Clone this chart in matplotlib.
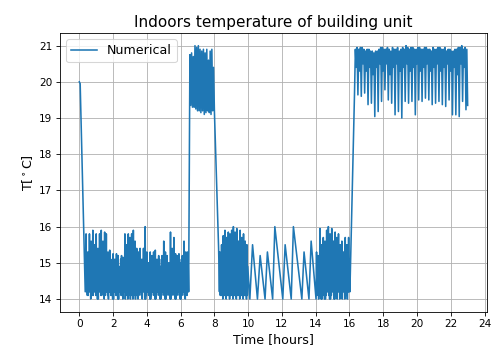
import numpy as np
import matplotlib
matplotlib.use("Agg")
import matplotlib.pyplot as plt

plt.rcParams["font.size"] = 12
plt.rcParams["xtick.labelsize"] = 10
plt.rcParams["ytick.labelsize"] = 10

STEP = 0.05        # sampling step of the comfort periods [hours]
FINE_STEP = 0.025  # sampling step of the setback periods [hours]

# initial cool-down from the set-point
start_t = [0.0, 0.05, 0.35]
start_T = [20.0, 19.95, 14.2]

# night setback, 0.40 h .. 6.475 h
night1_T0 = 0.40
night1_T = [
    15.8, 14.2, 14.9, 14.1, 15.3, 14.1, 15.0, 14.2, 15.8, 14.2, 14.8, 14.0,
    15.6, 14.2, 15.1, 14.1, 15.9, 14.1, 14.9, 14.2, 15.5, 14.2, 15.0, 14.1,
    15.8, 14.2, 14.8, 14.0, 15.4, 14.0, 15.1, 14.2, 15.8, 14.2, 14.9, 14.1,
    15.9, 14.1, 15.0, 14.2, 15.6, 14.2, 14.8, 14.0, 15.85, 14.1, 15.1, 14.2,
    15.8, 14.2, 14.9, 14.1, 15.3, 14.0, 15.0, 14.2, 15.35, 14.2, 14.8, 14.1,
    15.0, 14.1, 15.1, 14.0, 15.25, 14.0, 14.9, 14.2, 15.1, 14.2, 14.7, 14.1,
    15.25, 14.1, 15.0, 14.0, 15.2, 14.0, 14.8, 14.2, 14.9, 14.2, 15.1, 14.1,
    15.2, 14.1, 14.9, 14.0, 15.15, 14.2, 14.8, 14.2, 15.8, 14.0, 15.0, 14.1,
    15.5, 14.2, 14.9, 14.0, 15.8, 14.1, 15.1, 14.2, 15.7, 14.0, 14.8, 14.1,
    15.8, 14.2, 15.0, 14.0, 15.9, 14.1, 14.9, 14.2, 15.6, 14.0, 15.1, 14.1,
    15.4, 14.2, 14.8, 14.0, 15.3, 14.1, 15.0, 14.2, 15.4, 14.2, 14.9, 14.1,
    15.1, 14.0, 14.8, 14.2, 15.4, 14.2, 15.1, 14.0, 16.0, 14.0, 14.9, 14.1,
    15.3, 14.2, 15.0, 14.2, 15.0, 14.1, 14.8, 14.0, 15.3, 14.0, 15.1, 14.1,
    15.2, 14.2, 14.9, 14.2, 15.3, 14.1, 14.8, 14.0, 15.35, 14.0, 15.0, 14.1,
    15.1, 14.2, 14.9, 14.2, 15.2, 14.1, 15.1, 14.0, 14.9, 14.0, 14.8, 14.1,
    15.2, 14.2, 15.0, 14.2, 15.6, 14.1, 14.9, 14.0, 15.3, 14.0, 15.1, 14.1,
    15.2, 14.2, 14.8, 14.2, 15.0, 14.1, 15.0, 14.0, 15.85, 14.0, 14.9, 14.1,
    15.4, 14.2, 15.1, 14.2, 15.7, 14.1, 14.8, 14.0, 15.25, 14.0, 15.0, 14.1,
    15.2, 14.2, 14.9, 14.2, 15.25, 14.1, 14.8, 14.0, 15.0, 14.0, 15.1, 14.1,
    15.2, 14.2, 14.9, 14.2, 15.6, 14.1, 15.0, 14.0, 15.3, 14.2, 14.8, 14.1,
    15.3, 14.2, 14.9, 14.2,
]

# morning comfort period, 6.55 h .. 8.00 h
morning_T0 = 6.55
morning_T = [
    20.75, 19.35, 20.8, 19.3, 20.7, 19.3, 21.0, 19.25, 20.95, 19.2,
    21.0, 19.2, 20.9, 19.15, 20.85, 19.2, 20.9, 19.1, 20.8, 19.15,
    20.9, 19.2, 20.6, 19.15, 20.85, 19.1, 20.9, 19.2, 20.4, 19.2,
]

drop_t = [8.25]
drop_T = [15.4]

# day setback with heating cycles, 8.30 h .. 9.975 h
day1_T0 = 8.30
day1_T = [
    14.2, 15.3, 14.1, 14.9, 14.1, 15.5, 14.1, 15.0, 14.0, 15.75, 14.1, 14.8,
    14.1, 15.9, 14.1, 15.1, 14.0, 15.7, 14.1, 14.9, 14.1, 15.85, 14.1, 15.0,
    14.0, 15.8, 14.1, 14.8, 14.2, 15.9, 14.1, 15.1, 14.0, 16.0, 14.1, 14.9,
    14.1, 15.85, 14.1, 15.0, 14.0, 15.95, 14.1, 14.8, 14.2, 15.6, 14.1, 15.1,
    14.0, 15.9, 14.1, 14.9, 14.1, 15.7, 14.1, 15.0, 14.0, 15.8, 14.1, 14.8,
    14.1, 15.6, 14.1, 15.1, 14.0, 15.5, 14.1, 14.9,
]

# slow free-floating cycles around midday
saw_t = [10.1, 10.26, 10.55, 10.71, 11.0, 11.14, 11.45, 11.58, 12.05,
         12.19, 12.55, 12.68, 13.18, 13.31, 13.6, 13.73, 14.02]
saw_T = [14.0, 15.5, 14.0, 15.2, 14.0, 15.3, 14.0, 16.0, 14.0,
         15.5, 14.0, 16.0, 14.0, 15.3, 14.0, 15.6, 14.0]

# afternoon setback, 14.05 h .. 16.025 h
day2_T0 = 14.05
day2_T = [
    15.3, 14.1, 14.9, 14.2, 15.2, 14.0, 15.0, 14.1, 15.95, 14.2, 14.8, 14.0,
    15.5, 14.0, 15.1, 14.2, 15.7, 14.1, 14.9, 14.0, 15.6, 14.0, 15.0, 14.1,
    15.9, 14.2, 14.8, 14.2, 16.0, 14.1, 15.1, 14.0, 15.8, 14.0, 14.9, 14.1,
    15.95, 14.2, 15.0, 14.2, 15.6, 14.0, 14.8, 14.0, 15.85, 14.1, 15.1, 14.1,
    15.7, 14.0, 14.9, 14.2, 15.8, 14.2, 15.0, 14.0, 15.5, 14.1, 14.8, 14.1,
    15.6, 14.0, 15.1, 14.2, 15.3, 14.2, 14.9, 14.0, 15.7, 14.1, 15.0, 14.1,
    15.5, 14.0, 14.8, 14.2, 15.7, 14.2, 15.1, 14.2,
]

rise_t = [16.3]
rise_T = [19.7]

# evening comfort period, 16.35 h .. 23.00 h
evening_T0 = 16.35
evening_T = [
    20.9, 20.4, 20.95, 19.64, 20.9, 20.3, 20.95, 19.6,
    20.95, 20.5, 20.9, 19.69, 20.85, 20.3, 20.9, 19.37,
    20.9, 20.4, 20.85, 19.41, 20.85, 20.2, 20.8, 19.04,
    20.85, 20.4, 20.85, 19.18, 20.9, 20.5, 20.95, 19.46,
    20.95, 20.3, 20.9, 19.78, 20.9, 20.5, 20.95, 19.5,
    20.9, 20.2, 20.85, 19.41, 20.95, 20.4, 20.9, 19.09,
    20.9, 20.5, 20.95, 19.18, 20.85, 20.3, 20.9, 19.0,
    20.95, 20.4, 20.9, 19.46, 21.0, 20.5, 20.95, 19.41,
    20.9, 20.3, 20.95, 19.46, 20.95, 20.4, 20.9, 19.09,
    20.9, 20.5, 20.95, 19.5, 20.95, 20.3, 20.9, 19.46,
    20.9, 20.4, 20.95, 19.55, 20.95, 20.5, 20.9, 19.5,
    20.9, 20.3, 20.85, 19.37, 20.95, 20.4, 20.9, 19.41,
    20.9, 20.5, 20.95, 19.46, 20.95, 20.3, 20.9, 19.37,
    20.9, 20.4, 20.95, 19.32, 20.85, 20.5, 20.9, 19.5,
    20.9, 20.3, 20.85, 19.09, 20.85, 20.4, 20.9, 19.09,
    20.9, 20.2, 20.95, 19.04, 20.95, 20.5, 21.0, 19.46,
    20.9, 20.4, 20.95, 19.23, 20.9, 19.35,
]


def sampled(t0, vals, step=STEP):
    return t0 + step * np.arange(len(vals))


time = np.concatenate([
    start_t,
    sampled(night1_T0, night1_T, FINE_STEP),
    sampled(morning_T0, morning_T),
    drop_t,
    sampled(day1_T0, day1_T, FINE_STEP),
    saw_t,
    sampled(day2_T0, day2_T, FINE_STEP),
    rise_t,
    sampled(evening_T0, evening_T),
])
temp = np.concatenate([
    start_T, night1_T, morning_T, drop_T, day1_T,
    saw_T, day2_T, rise_T, evening_T,
])

fig = plt.figure(figsize=(491 / 76, 351 / 76), dpi=76)
ax = fig.add_axes([0.122, 0.112, 0.870, 0.794])
ax.plot(time, temp, label="Numerical")
ax.set_xticks(np.arange(0, 25, 2))
ax.set_yticks(np.arange(14, 22, 1))
ax.grid(True)
ax.set_title("Indoors temperature of building unit")
ax.set_xlabel("Time [hours]")
ax.set_ylabel(r"T[$^\circ$C]")
ax.legend(loc="upper left")
fig.savefig("out.png", dpi=76)
